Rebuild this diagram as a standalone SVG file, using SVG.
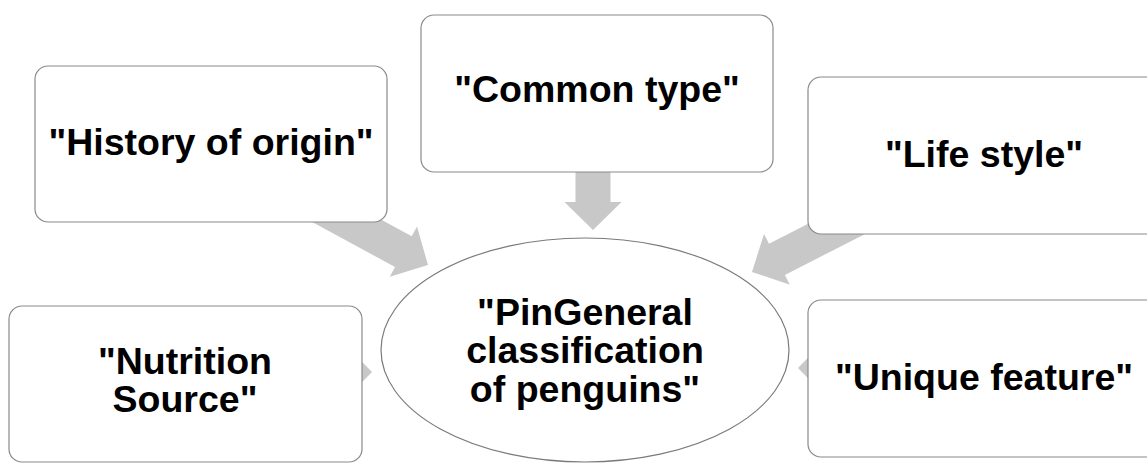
<svg xmlns="http://www.w3.org/2000/svg" width="1147" height="463" viewBox="0 0 1147 463">
<defs>
<style>
.box{fill:#ffffff;stroke:#8a8a8a;stroke-width:1.2}
.ell{fill:#ffffff;stroke:#7a7a7a;stroke-width:1.2}
.arrow{fill:#c8c8c8;stroke:none}
.lbl{font-family:"Liberation Sans",Arial,sans-serif;font-weight:bold;font-size:37.5px;fill:#000000;text-anchor:middle}
</style>
<path id="blk" d="M-150,-17.5 L-28,-17.5 L-28,-28.5 L0,0 L-28,28.5 L-28,17.5 L-150,17.5 Z"/>
</defs>
<rect width="1147" height="463" fill="#ffffff"/>
<g id="connectors">
<use href="#blk" class="arrow" transform="translate(428,265) rotate(28.5)"/>
<use href="#blk" class="arrow" transform="translate(593,230) rotate(90)"/>
<use href="#blk" class="arrow" transform="translate(752,272) rotate(153)"/>
<use href="#blk" class="arrow" transform="translate(372,372) rotate(0)"/>
<use href="#blk" class="arrow" transform="translate(798,368) rotate(180)"/>
</g>
<g id="center">
<ellipse class="ell" cx="585" cy="350" rx="204" ry="112"/>
<text class="lbl" x="585" y="325">"PinGeneral</text>
<text class="lbl" x="585" y="363">classification</text>
<text class="lbl" x="585" y="402">of penguins"</text>
</g>
<g id="history">
<rect class="box" x="35" y="66" width="352" height="156" rx="13"/>
<text class="lbl" x="211" y="155">"History of origin"</text>
</g>
<g id="common">
<rect class="box" x="421" y="15" width="352" height="157" rx="13"/>
<text class="lbl" x="597" y="102">"Common type"</text>
</g>
<g id="lifestyle">
<rect class="box" x="808" y="77" width="352" height="157" rx="13"/>
<text class="lbl" x="984" y="167">"Life style"</text>
</g>
<g id="nutrition">
<rect class="box" x="9" y="306" width="353" height="156" rx="13"/>
<text class="lbl" x="185" y="374">"Nutrition</text>
<text class="lbl" x="185" y="412">Source"</text>
</g>
<g id="unique">
<rect class="box" x="808" y="300" width="352" height="157" rx="13"/>
<text class="lbl" x="984" y="390">"Unique feature"</text>
</g>
</svg>
